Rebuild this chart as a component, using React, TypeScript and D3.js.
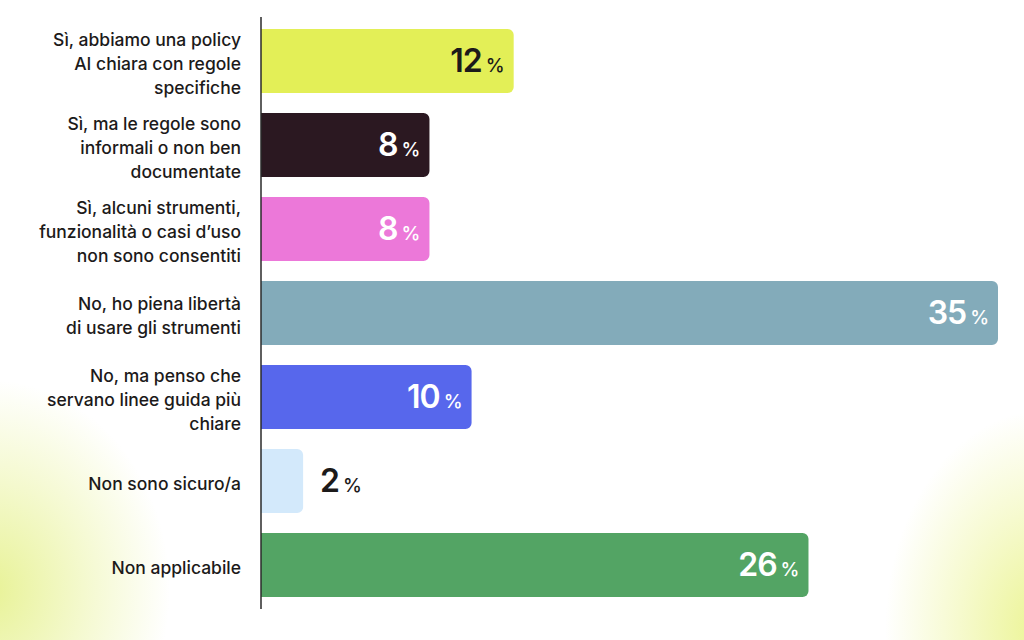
import { useEffect, useRef } from 'react';
import * as d3 from 'd3';

// categories (line breaks as in the original labels)
const categories: string[][] = [
  ['Sì, abbiamo una policy', 'AI chiara con regole', 'specifiche'],
  ['Sì, ma le regole sono', 'informali o non ben', 'documentate'],
  ['Sì, alcuni strumenti,', 'funzionalità o casi d’uso', 'non sono consentiti'],
  ['No, ho piena libertà', 'di usare gli strumenti'],
  ['No, ma penso che', 'servano linee guida più', 'chiare'],
  ['Non sono sicuro/a'],
  ['Non applicabile'],
];
const values = [12, 8, 8, 35, 10, 2, 26];
const barColors = ['#e3ef57', '#2b1821', '#ec78d9', '#83abba', '#5767ec', '#d3e9fb', '#53a464'];
const labelColors = ['#1c1a1a', '#ffffff', '#ffffff', '#ffffff', '#ffffff', '#1c1a1a', '#ffffff'];

const W = 1024;
const H = 640;

function rightRounded(x0: number, x1: number, y: number, h: number, r: number) {
  const rr = Math.min(r, (x1 - x0) / 2, h / 2);
  const p = d3.path();
  p.moveTo(x0, y);
  p.lineTo(x1 - rr, y);
  p.arcTo(x1, y, x1, y + rr, rr);
  p.lineTo(x1, y + h - rr);
  p.arcTo(x1, y + h, x1 - rr, y + h, rr);
  p.lineTo(x0, y + h);
  p.closePath();
  return p.toString();
}

export default function App() {
  const svgRef = useRef<SVGSVGElement>(null);

  useEffect(() => {
    if (!svgRef.current) return;
    const svg = d3.select(svgRef.current);
    svg.selectAll('*').remove();

    // background glows
    const defs = svg.append('defs');
    const glow = (id: string, color: string) => {
      const g = defs.append('radialGradient').attr('id', id);
      g.append('stop').attr('offset', '0%').attr('stop-color', color).attr('stop-opacity', 0.8);
      g.append('stop').attr('offset', '55%').attr('stop-color', color).attr('stop-opacity', 0.35);
      g.append('stop').attr('offset', '100%').attr('stop-color', color).attr('stop-opacity', 0);
    };
    glow('glowL', '#e2ef7c');
    glow('glowR', '#e6f176');

    svg.append('rect').attr('width', W).attr('height', H).attr('fill', '#ffffff');
    svg.append('ellipse').attr('cx', -10).attr('cy', 590).attr('rx', 180).attr('ry', 210).attr('fill', 'url(#glowL)');
    svg.append('ellipse').attr('cx', 1045).attr('cy', 630).attr('rx', 160).attr('ry', 220).attr('fill', 'url(#glowR)');

    const axisX = 261;
    const x = d3.scaleLinear().domain([0, 35]).range([axisX, 998]);
    const y = d3.scaleBand<number>()
      .domain(d3.range(values.length))
      .range([19, 607])
      .paddingInner(0.24)
      .paddingOuter(0.12);

    const g = svg.append('g');

    // bars
    g.selectAll('path.bar')
      .data(values)
      .enter().append('path')
      .attr('class', 'bar')
      .attr('d', (d, i) => rightRounded(axisX, x(d), y(i)!, y.bandwidth(), 6))
      .attr('fill', (d, i) => barColors[i]);

    // axis line
    g.append('line')
      .attr('x1', axisX).attr('x2', axisX)
      .attr('y1', 17).attr('y2', 609)
      .attr('stroke', '#2a2a2a')
      .attr('stroke-width', 1.5);

    // category labels
    const lineH = 24;
    categories.forEach((lines, i) => {
      const cy = y(i)! + y.bandwidth() / 2 + 3;
      const top = cy - ((lines.length - 1) * lineH) / 2;
      const t = g.append('text')
        .attr('text-anchor', 'end')
        .style('font-family', 'Inter, "Open Sans", sans-serif')
        .style('font-size', '17.5px')
        .style('font-weight', 500)
        .style('fill', '#1c1a1a');
      lines.forEach((ln, k) => {
        t.append('tspan')
          .attr('x', 241)
          .attr('y', top + k * lineH)
          .attr('dy', '0.35em')
          .text(ln);
      });
    });

    // value labels
    values.forEach((v, i) => {
      const inside = v >= 5;
      const cy = y(i)! + y.bandwidth() / 2;
      const t = g.append('text')
        .attr('y', cy + 11)
        .style('font-family', 'Inter, "Open Sans", sans-serif')
        .style('fill', labelColors[i]);
      if (inside) {
        t.attr('x', x(v) - 9).attr('text-anchor', 'end');
      } else {
        t.attr('x', x(v) + 17).attr('text-anchor', 'start');
      }
      t.append('tspan')
        .style('font-size', '32px')
        .style('font-weight', 600)
        .style('letter-spacing', '-1px')
        .text(String(v));
      t.append('tspan')
        .attr('dx', 4)
        .style('font-size', '19px')
        .style('font-weight', 500)
        .text('%');
    });
  }, []);

  return (
    <svg
      ref={svgRef}
      width={W}
      height={H}
      style={{ position: 'fixed', left: 0, top: 0, display: 'block' }}
    />
  );
}
